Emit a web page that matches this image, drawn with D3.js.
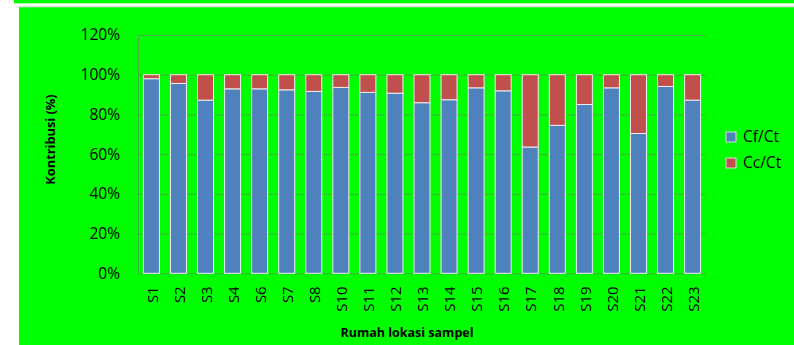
<!DOCTYPE html>
<html>
<head>
<meta charset="utf-8">
<script src="https://cdn.jsdelivr.net/npm/d3@7"></script>
<style>
  html, body { margin: 0; padding: 0; background: #ffffff; }
  svg { display: block; }
  text { font-family: "Open Sans", Lato, sans-serif; fill: #000; }
</style>
</head>
<body>
<svg id="chart" width="794" height="345"></svg>
<script>
// Sampling houses
const categories = ["S1","S2","S3","S4","S6","S7","S8","S10","S11","S12","S13","S14","S15","S16","S17","S18","S19","S20","S21","S22","S23"];
// Share of Cf in Ct (%) per house
const cfCt = [98.0, 95.6, 87.2, 92.9, 92.9, 92.4, 91.6, 93.6, 91.1, 90.7, 85.9, 87.4, 93.4, 91.9, 63.6, 74.5, 85.0, 93.4, 70.4, 94.1, 87.2];
// Share of Cc in Ct (%) per house
const ccCt = [2.0, 4.4, 12.8, 7.1, 7.1, 7.6, 8.4, 6.4, 8.9, 9.3, 14.1, 12.6, 6.6, 8.1, 36.4, 25.5, 15.0, 6.6, 29.6, 5.9, 12.8];
const seriesNames = ["Cf/Ct", "Cc/Ct"];
const yTicks = [0, 20, 40, 60, 80, 100, 120];

const colors = { "Cf/Ct": "#4F81BD", "Cc/Ct": "#C0504D" };
const svg = d3.select("#chart");

// chart background panels
svg.append("rect").attr("x", 14).attr("y", 0).attr("width", 780).attr("height", 3.3).attr("fill", "#00ff00");
svg.append("rect").attr("x", 19).attr("y", 6.3).attr("width", 775).attr("height", 1).attr("fill", "#c8c8c8");
svg.append("rect").attr("x", 19).attr("y", 7.3).attr("width", 775).attr("height", 338).attr("fill", "#00ff00");

const plot = { left: 138, right: 706, top: 35, bottom: 273.3 };

const x = d3.scaleBand()
  .domain(categories)
  .range([plot.left, plot.right])
  .paddingInner(0.41)
  .paddingOuter(0.2);

const y = d3.scaleLinear()
  .domain([0, 120])
  .range([plot.bottom, plot.top]);

// y axis with gridlines
const yAxis = svg.append("g")
  .attr("transform", `translate(${plot.left},0)`)
  .call(d3.axisLeft(y)
    .tickValues(yTicks)
    .tickFormat(d => d + "%")
    .tickSize(-(plot.right - plot.left))
    .tickPadding(18));
yAxis.select(".domain").remove();
yAxis.selectAll(".tick line").attr("stroke", "#40b040").attr("stroke-width", 1);
yAxis.selectAll(".tick text")
  .attr("font-size", 15.5)
  .attr("font-family", "'Open Sans', sans-serif")
  .attr("fill", "#000");

// left axis line
svg.append("line")
  .attr("x1", plot.left + 0.5).attr("x2", plot.left + 0.5)
  .attr("y1", y(120)).attr("y2", y(0))
  .attr("stroke", "#40b040");

// stacked data
const rows = categories.map((c, i) => ({ cat: c, "Cf/Ct": cfCt[i], "Cc/Ct": ccCt[i] }));
const stacked = d3.stack().keys(seriesNames)(rows);

svg.append("g").selectAll("g")
  .data(stacked)
  .join("g")
  .attr("fill", d => colors[d.key])
  .selectAll("rect")
  .data(d => d)
  .join("rect")
  .attr("x", d => x(d.data.cat))
  .attr("width", x.bandwidth())
  .attr("y", d => y(d[1]))
  .attr("height", d => y(d[0]) - y(d[1]))
  .attr("stroke", "#eeeeee")
  .attr("stroke-width", 1);

// x axis labels
const xAxis = svg.append("g")
  .attr("transform", `translate(0,${plot.bottom})`)
  .call(d3.axisBottom(x).tickSize(0).tickPadding(0));
xAxis.select(".domain").remove();
xAxis.selectAll(".tick text")
  .attr("font-size", 15)
  .attr("font-family", "'Open Sans', sans-serif")
  .attr("fill", "#000")
  .attr("text-anchor", "end")
  .attr("transform", "translate(1,13) rotate(-90)")
  .attr("y", 0)
  .attr("dy", "0.35em");

// axis titles
svg.append("text")
  .attr("transform", "translate(51,139.5) rotate(-90)")
  .attr("text-anchor", "middle")
  .attr("dy", "0.35em")
  .attr("font-size", 12.8)
  .attr("font-weight", "bold")
  .text("Kontribusi (%)");

svg.append("text")
  .attr("x", 407)
  .attr("y", 337)
  .attr("text-anchor", "middle")
  .attr("font-size", 12.5)
  .attr("font-weight", "bold")
  .text("Rumah lokasi sampel");

// legend
const legend = svg.append("g").selectAll("g")
  .data(seriesNames)
  .join("g")
  .attr("transform", (d, i) => `translate(726,${137 + i * 26})`);
legend.append("rect")
  .attr("x", 0).attr("y", -5)
  .attr("width", 10).attr("height", 10)
  .attr("fill", d => colors[d])
  .attr("stroke", "#dddddd")
  .attr("stroke-width", 1);
legend.append("text")
  .attr("x", 17)
  .attr("dy", "0.35em")
  .attr("font-size", 15.5)
  .text(d => d);
</script>
</body>
</html>
